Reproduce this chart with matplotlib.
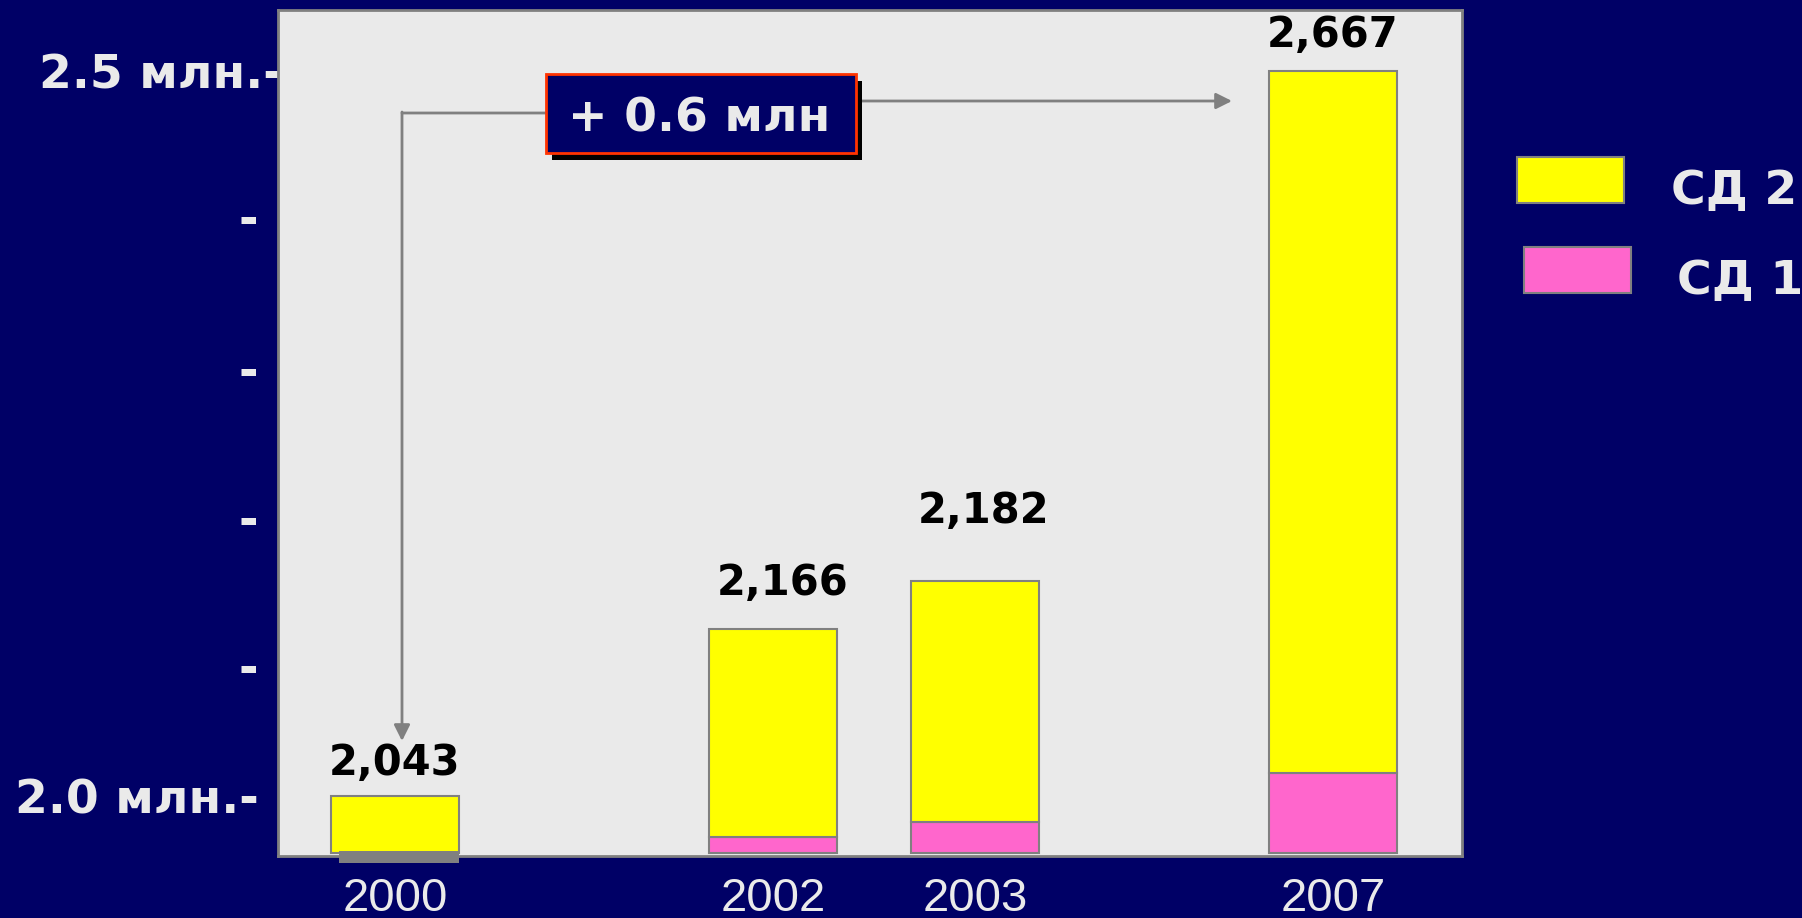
import numpy as np
import matplotlib.pyplot as plt
from matplotlib.patches import Rectangle
from matplotlib.transforms import Affine2D, ScaledTranslation

# values as printed on the slide (thousands)
years = ['2000', '2002', '2003', '2007']
totals = [2043, 2166, 2182, 2667]

# the slide is not drawn to scale: bar edges,
# in the units of its own y axis (mln)
base = 1.961
top_sd1 = [1.961, 1.972, 1.982, 2.016]
top_sd2 = [2.000, 2.115, 2.148, 2.500]
stub_2000 = [1.954, 1.962]          # grey strip under the 2000 bar

ytick_vals = [2.0, 2.090, 2.192, 2.295, 2.400, 2.5]
ytick_text = ['2.0 млн.-', '-', '-', '-', '-', '2.5 млн.-']
legend_labels = ['СД 2', 'СД 1']
delta_text = '+ 0.6 млн'

# layout / style
W, H, DPI = 1802, 918, 100
NAVY = '#000066'
PANEL = '#EAEAEA'
TXT = '#EAEAEA'
YELLOW = '#FFFF00'
PINK = '#FF66CC'
GREY = '#808080'
bar_pos = np.array([0.914, 3.867, 5.445, 8.242])
label_gap = [15, 25, 42, 17]        # points above the bar top
label_dx = [0, 7, 6, 0]

plt.rcParams['font.family'] = ['DejaVu Sans']

fig = plt.figure(figsize=(W / DPI, H / DPI), dpi=DPI, facecolor=NAVY)
# pixel transform, origin top-left, for the slide decorations
px = Affine2D().scale(1, -1).translate(0, H).scale(1 / DPI) + fig.dpi_scale_trans

ax = fig.add_axes([278 / W, 1 - 856 / H, (1462 - 278) / W, (856 - 10) / H])
ax.set_facecolor(PANEL)
ax.set_xlim(0, 9.25)
ax.set_ylim(1.9586, 2.5421)
for s in ax.spines.values():
    s.set_color(GREY)
    s.set_linewidth(2)

sd1 = np.subtract(top_sd1, base)
sd2 = np.subtract(top_sd2, top_sd1)
has1 = sd1 > 0
ax.bar(bar_pos[has1], sd1[has1], bottom=base, width=1.0, color=PINK,
       edgecolor=GREY, linewidth=1.5, zorder=2)
ax.bar(bar_pos, sd2, bottom=top_sd1, width=1.0, color=YELLOW,
       edgecolor=GREY, linewidth=1.5, zorder=2)
ax.bar(bar_pos[0] + 0.03, stub_2000[1] - stub_2000[0], bottom=stub_2000[0],
       width=0.94, color=GREY, linewidth=0, zorder=5, clip_on=False)

for i, v in enumerate(totals):
    ax.annotate(f'{v:,}', (bar_pos[i], top_sd2[i]),
                xytext=(label_dx[i], label_gap[i]), textcoords='offset points',
                ha='center', va='baseline', fontsize=30, fontweight='bold',
                color='black', zorder=4)

ax.set_yticks(ytick_vals)
ax.set_yticklabels(ytick_text, fontsize=34, fontweight='bold', color=TXT)
ax.tick_params(axis='y', length=0, pad=14)
lab = ax.get_yticklabels()[-1]
lab.set_transform(lab.get_transform() + ScaledTranslation(0.24, 0, fig.dpi_scale_trans))

ax.set_xticks(bar_pos)
ax.set_xticklabels(years, fontsize=34, family='Liberation Sans', color=TXT)
ax.tick_params(axis='x', length=0, pad=15)

# "+0.6 mln" call-out with its two arrows
arrow = dict(arrowstyle='-|>', color=GREY, lw=2, mutation_scale=24,
             shrinkA=0, shrinkB=0)
line = dict(arrowstyle='-', color=GREY, lw=2, shrinkA=0, shrinkB=0)
ax.annotate('', xy=(402, 113), xytext=(546, 113), xycoords=px, textcoords=px,
            arrowprops=line, annotation_clip=False)
ax.annotate('', xy=(402, 741), xytext=(402, 112), xycoords=px, textcoords=px,
            arrowprops=arrow, annotation_clip=False)
ax.annotate('', xy=(1232, 101), xytext=(856, 101), xycoords=px, textcoords=px,
            arrowprops=arrow, annotation_clip=False)

fig.add_artist(Rectangle((552, 81), 310, 79, transform=px, facecolor='black',
                         edgecolor='none', zorder=5))
fig.add_artist(Rectangle((546, 74), 310, 79, transform=px, facecolor=NAVY,
                         edgecolor='#FF3300', linewidth=2, zorder=6))
fig.text(699, 131, delta_text, transform=px, ha='center', va='baseline',
         fontsize=34, fontweight='bold', color=TXT, zorder=7)

# legend, drawn by hand as on the slide
leg_patch = [(1517, 157), (1524, 247)]
leg_text = [(1671, 204), (1677, 294)]
for lbl, col, (x0, y0), (tx, ty) in zip(legend_labels, [YELLOW, PINK],
                                         leg_patch, leg_text):
    fig.add_artist(Rectangle((x0, y0), 107, 46, transform=px, facecolor=col,
                             edgecolor=GREY, linewidth=1.5))
    fig.text(tx, ty, lbl, transform=px, ha='left', va='baseline',
             fontsize=34, fontweight='bold', color=TXT)

fig.savefig('out.png', dpi=DPI, facecolor=NAVY)
